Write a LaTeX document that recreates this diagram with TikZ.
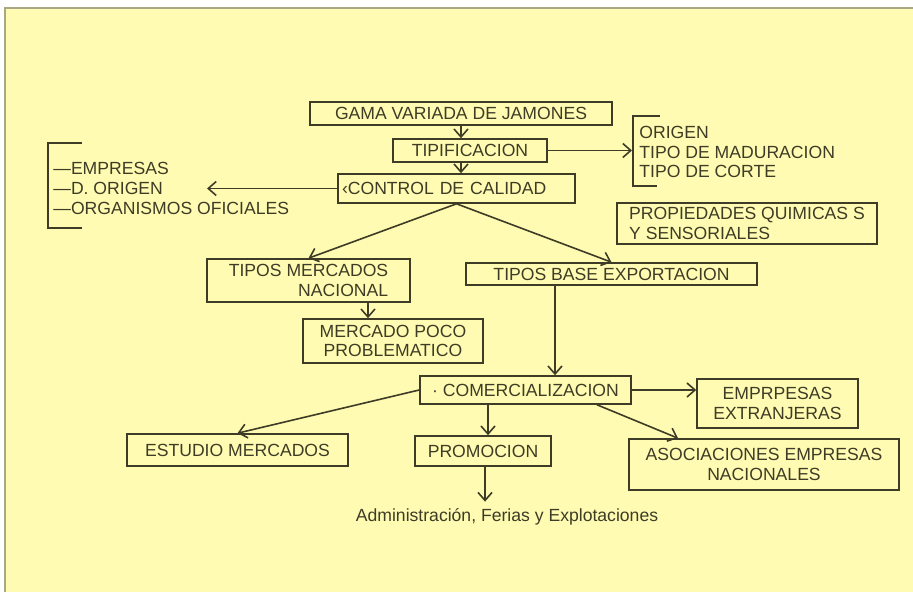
\documentclass[tikz,border=0pt]{standalone}
\usepackage{fontspec}
\setmainfont{Liberation Sans}
\usepackage{tikz}
\usetikzlibrary{calc, arrows.meta, positioning}

\definecolor{fondo}{RGB}{255,251,178}
\definecolor{marco}{RGB}{170,168,130}
\definecolor{tinta}{RGB}{62,60,38}

\tikzset{
  caja/.style={draw=tinta, line width=0.8pt, inner sep=0pt, align=center, text=tinta},
  flecha/.style={draw=tinta, line width=0.8pt, -{Straight Barb[length=4pt,width=7pt]}},
  lista/.style={align=left, inner sep=0pt, text=tinta},
}

\begin{document}
\begin{tikzpicture}[x=0.5pt, y=-0.5pt, font=\fontsize{8.8}{9.8}\selectfont]
% 1. Fondo y marco
\useasboundingbox (0,0) rectangle (913,592);
\fill[white] (0,0) rectangle (913,592);
\fill[fondo] (5,8) rectangle (913,592);
\draw[marco, line width=1pt] (5,592) -- (5,8) -- (913,8);

% 2. Cajas
\node[caja, minimum width=151pt, minimum height=11.5pt] (gama) at (461,113.5) {GAMA VARIADA DE JAMONES};
\node[caja, minimum width=77pt, minimum height=11.5pt] (tipif) at (470,150.5) {TIPIFICACION};
\node[caja, align=left, inner xsep=2pt, text width=114.5pt, minimum height=14.5pt] (control) at (456.5,188.5) {‹CONTROL DE CALIDAD};
\node[caja, align=left, minimum width=130pt, minimum height=20.5pt] (propied) at (747,223.5) {PROPIEDADES QUIMICAS S\\Y SENSORIALES};
\node[caja, align=right, minimum width=101.5pt, minimum height=21.5pt] (mercnac) at (308.5,280.5) {TIPOS MERCADOS\hspace{7.5pt}\\NACIONAL\hspace{7.5pt}};
\node[caja, minimum width=145.5pt, minimum height=11pt] (expo) at (611.5,274) {TIPOS BASE EXPORTACION};
\node[caja, minimum width=90pt, minimum height=22pt] (poco) at (393,341) {MERCADO POCO\\PROBLEMATICO};
\node[caja, minimum width=105.5pt, minimum height=14pt] (comerc) at (525.5,390) {· COMERCIALIZACION};
\node[caja, minimum width=80.5pt, minimum height=24.5pt] (emprext) at (777.5,403.5) {EMPRPESAS\\EXTRANJERAS};
\node[caja, minimum width=110.5pt, minimum height=16pt] (estudio) at (237.5,450) {ESTUDIO MERCADOS};
\node[caja, minimum width=68pt, minimum height=15pt] (promo) at (483,451) {PROMOCION};
\node[caja, minimum width=135pt, minimum height=25.5pt] (asoc) at (764,464.5) {ASOCIACIONES EMPRESAS\\NACIONALES};
\node[text=tinta] (admin) at (507,517) {Administración, Ferias y Explotaciones};

% 3. Listas con corchete
\node[lista, anchor=west] (entes) at (53,188.5) {—EMPRESAS\\—D. ORIGEN\\—ORGANISMOS OFICIALES};
\node[lista, anchor=west] (rasgos) at (639,152) {ORIGEN\\TIPO DE MADURACION\\TIPO DE CORTE};
\draw[tinta, line width=0.8pt] (82,143) -- (48,143) -- (48,228) -- (82,228);
\draw[tinta, line width=0.8pt] (660,116) -- (633,116) -- (633,186) -- (657,186);
\coordinate (entesfin) at (207,188.5);
\coordinate (rasgosfin) at (632,150.5);

% 4. Flechas
\draw[flecha] (gama.south) -- (gama.south |- tipif.north);
\draw[flecha] (gama.south |- tipif.south) -- (gama.south |- control.north);
\draw[flecha] (control.west) -- (entesfin);
\draw[flecha] (tipif.east) -- (rasgosfin);
\draw[flecha] (control.south) -- (mercnac.north);
\draw[flecha] (control.south) -- (expo.north);
\draw[flecha] ($(mercnac.south)+(59.5,0)$) -- ($(poco.north)+(-25,0)$);
\draw[flecha] ($(expo.south)+(-56.5,0)$) -- ($(comerc.north)+(29.5,0)$);
\draw[flecha] (comerc.east) -- (emprext.west |- comerc.east);
\draw[flecha] (comerc.west) -- (estudio.north);
\draw[flecha] ($(comerc.south)+(-37.5,0)$) -- ($(promo.north)+(5,0)$);
\draw[flecha] ($(comerc.south)+(71.5,0)$) -- ($(asoc.north)+(-86,0)$);
\coordinate (promopie) at ($(promo.south)+(2,0)$);
\draw[flecha] (promopie) -- (promopie |- admin.north);
\end{tikzpicture}
\end{document}
